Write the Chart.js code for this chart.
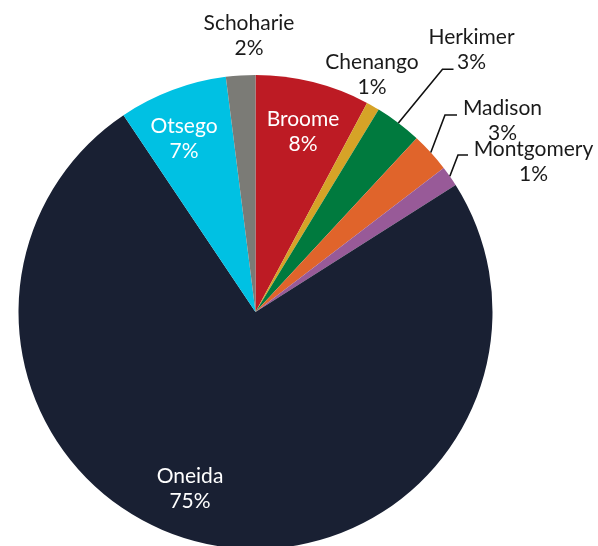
<!DOCTYPE html>
<html>
<head>
<meta charset="utf-8">
<script src="https://cdn.jsdelivr.net/npm/chart.js@4.4.1/dist/chart.umd.min.js"></script>
<style>
  html, body { margin: 0; padding: 0; background: #fff; overflow: hidden; }
  #wrap { position: absolute; left: 0; top: 0; width: 598px; height: 560px; }
</style>
</head>
<body>
<div id="wrap"><canvas id="pieChart" width="598" height="560"></canvas></div>
<script>
// Counties, clockwise from 12 o'clock
const counties = ['Broome', 'Chenango', 'Herkimer', 'Madison', 'Montgomery', 'Oneida', 'Otsego', 'Schoharie'];
const shares = [7.8, 0.9, 3.2, 2.7, 1.4, 74.6, 7.4, 2.0];
const sliceColors = ['#BD1B24', '#D6A327', '#007A3E', '#E0642B', '#985A98', '#192033', '#00C1E3', '#7B7B76'];

// label placement, offsets from the pie centre (px)
const labelLayout = {
  Broome:     { at: [47.5, -180], color: '#fff' },
  Chenango:   { at: [116.5, -237.5], color: '#1a1a1a' },
  Herkimer:   { at: [216, -262.5], color: '#1a1a1a', elbow: [187, -242.7], tail: 11 },
  Madison:    { at: [247, -191], color: '#1a1a1a', elbow: [189.5, -197], tail: 12 },
  Montgomery: { at: [278, -150], color: '#1a1a1a', elbow: [202.5, -157], tail: 10 },
  Oneida:     { at: [-65.5, 177], color: '#fff' },
  Otsego:     { at: [-71.5, -173], color: '#fff' },
  Schoharie:  { at: [-6.5, -276], color: '#1a1a1a' }
};

const sliceLabels = {
  id: 'sliceLabels',
  afterDatasetsDraw(chart) {
    const ctx = chart.ctx;
    const meta = chart.getDatasetMeta(0);
    const data = chart.data.datasets[0].data;
    const total = data.reduce((a, b) => a + b, 0);
    ctx.save();
    ctx.font = '21px Lato, "Open Sans", sans-serif';
    ctx.textAlign = 'center';
    ctx.textBaseline = 'middle';
    meta.data.forEach((arc, i) => {
      const name = chart.data.labels[i];
      const lay = labelLayout[name];
      const cx = arc.x, cy = arc.y;
      if (lay.elbow) {
        const mid = (arc.startAngle + arc.endAngle) / 2;
        const ex = cx + Math.cos(mid) * arc.outerRadius;
        const ey = cy + Math.sin(mid) * arc.outerRadius;
        const bx = cx + lay.elbow[0], by = cy + lay.elbow[1];
        ctx.beginPath();
        ctx.moveTo(ex, ey);
        ctx.lineTo(bx, by);
        ctx.lineTo(bx + lay.tail, by);
        ctx.strokeStyle = '#111';
        ctx.lineWidth = 1.6;
        ctx.stroke();
      }
      const pct = Math.round(data[i] / total * 100) + '%';
      const tx = cx + lay.at[0], ty = cy + lay.at[1];
      ctx.fillStyle = lay.color;
      ctx.fillText(name, tx, ty - 12.5);
      ctx.fillText(pct, tx, ty + 12.5);
    });
    ctx.restore();
  }
};

const ctx = document.getElementById('pieChart').getContext('2d');
new Chart(ctx, {
  type: 'pie',
  data: {
    labels: counties,
    datasets: [{
      data: shares,
      backgroundColor: sliceColors,
      borderWidth: 0,
      hoverOffset: 0
    }]
  },
  options: {
    responsive: false,
    animation: false,
    layout: {
      padding: { left: 18.5, right: 105.5, top: 75, bottom: 11 }
    },
    plugins: {
      legend: { display: false },
      tooltip: { enabled: false }
    }
  },
  plugins: [sliceLabels]
});
</script>
</body>
</html>
